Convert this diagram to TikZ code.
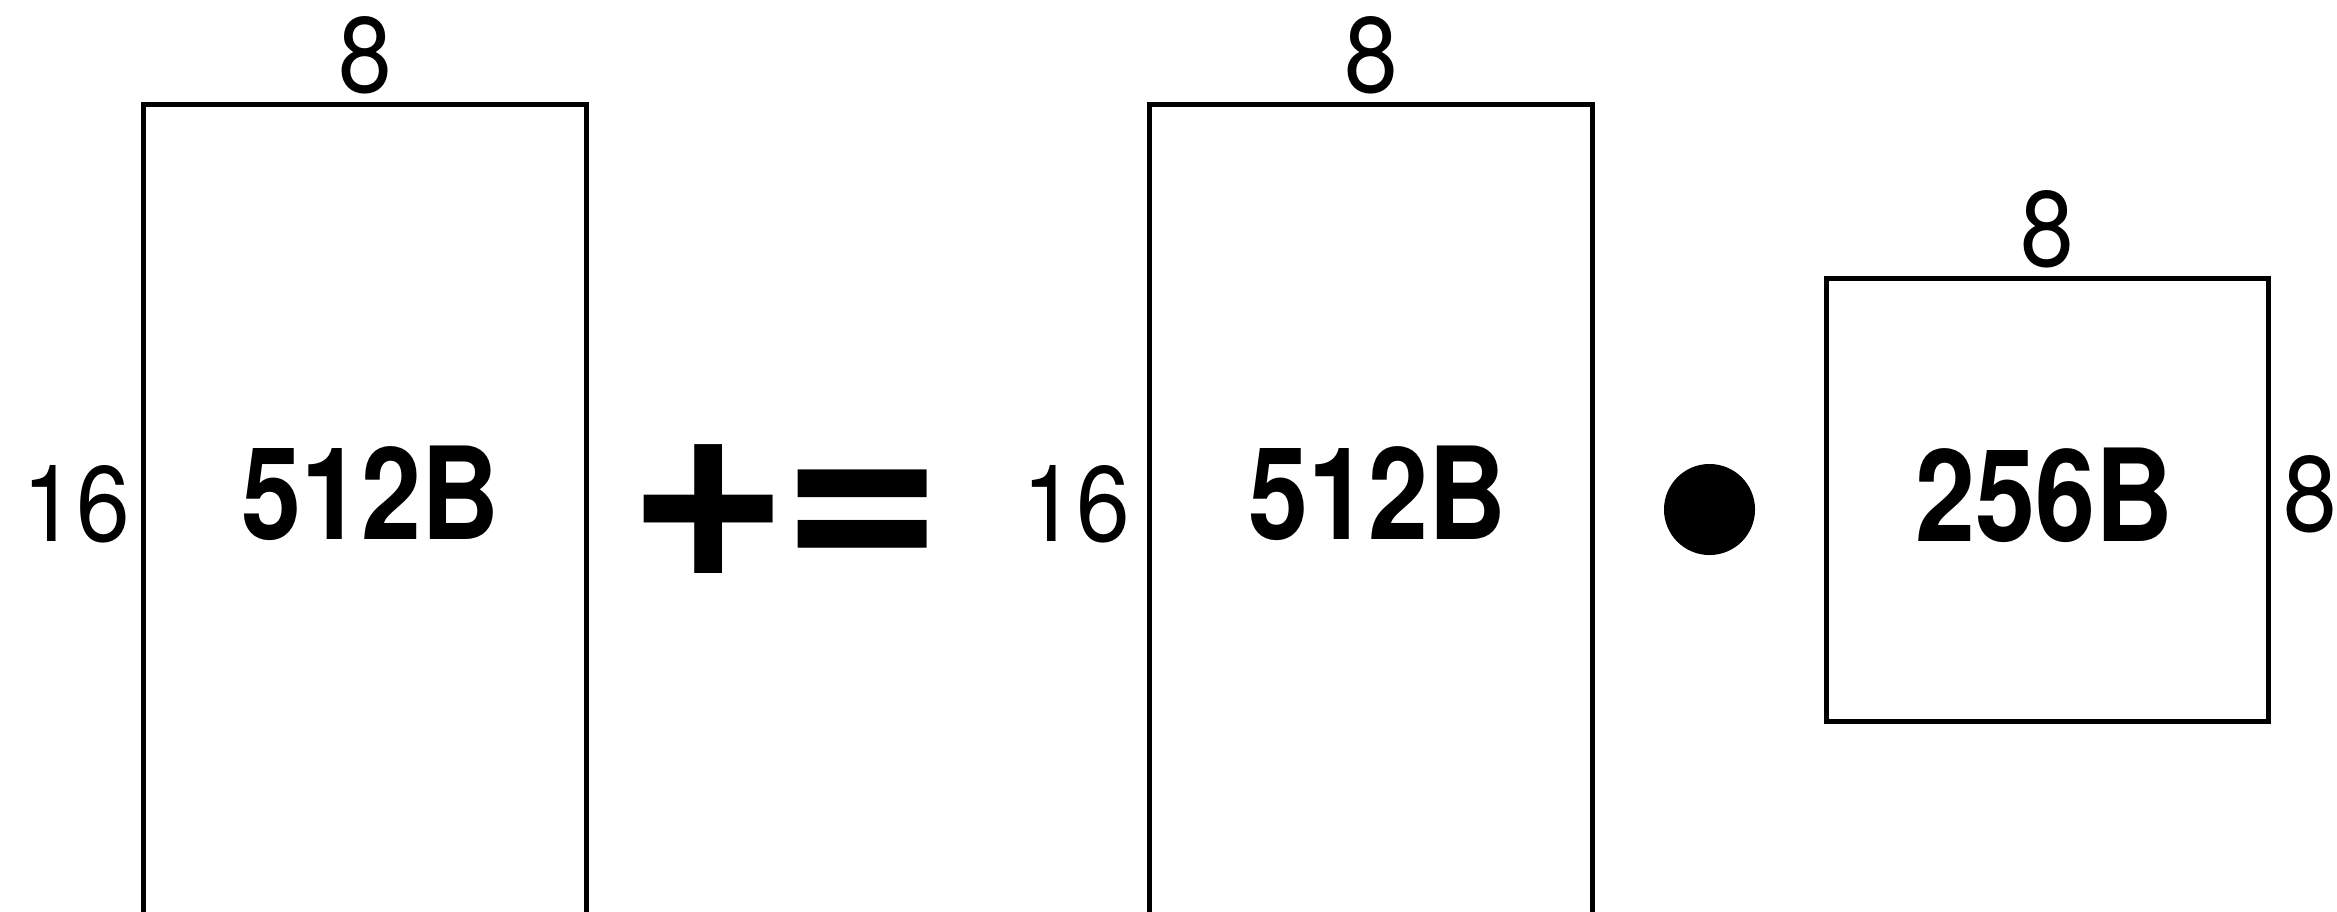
\documentclass[tikz,border=0pt]{standalone}
\usepackage{fontspec}
\setmainfont{TeX Gyre Heros}
\usetikzlibrary{positioning}

\begin{document}
\begin{tikzpicture}[
  x=0.01cm, y=-0.01cm,
  node distance=0.1cm,
  blk/.style={draw, line width=1.42pt, minimum width=4.42cm, inner sep=0pt, outer sep=0pt},
  dimlbl/.style={font=\fontsize{30.5pt}{30.5pt}\selectfont, xscale=0.9, inner sep=0pt},
  sizelbl/.style={font=\fontsize{36.5pt}{36.5pt}\selectfont\bfseries, xscale=0.84, inner sep=0pt},
  opsym/.style={font=\fontsize{79pt}{79pt}\selectfont\bfseries, inner sep=0pt}
]
\useasboundingbox (0,0) rectangle (2337,911);
\clip (0,0) rectangle (2337,911);

% the three blocks
\node[blk, minimum height=8.84cm] (blkA) at (365,547) {};
\node[blk, minimum height=8.84cm] (blkB) at (1371,547) {};
\node[blk, minimum height=4.42cm] (blkC) at (2047.5,500) {};

% sizes
\node[dimlbl, above=of blkA] (wA) {8};
\node[dimlbl, above=of blkB] (wB) {8};
\node[dimlbl, above=of blkC] (wC) {8};
\node[dimlbl] (hA) at (76,504.5) {16};
\node[dimlbl] (hB) at (1076,504.5) {16};
\node[dimlbl] (hC) at (2310,494) {8};

\node[sizelbl] (sA) at (370,493) {512B};
\node[sizelbl] (sB) at (1377,493) {512B};
\node[sizelbl] (sC) at (2044,495.5) {256B};

% operators
\node[opsym] (plus) at (709,512) {+};
\node[opsym] (eq) at (862.5,524) {=};
\node[circle, fill, minimum size=0.91cm, inner sep=0pt] (dot) at (1709.5,509.5) {};
\end{tikzpicture}
\end{document}
